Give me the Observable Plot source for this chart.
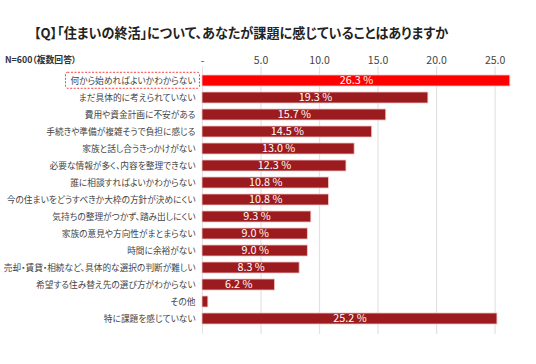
<!DOCTYPE html>
<html>
<head>
<meta charset="utf-8">
<script src="https://cdn.jsdelivr.net/npm/d3@7"></script>
<script src="https://cdn.jsdelivr.net/npm/@observablehq/plot@0.6"></script>
<style>
  body { margin: 0; background: #fff; font-family: "Noto Sans CJK JP", "Noto Sans", sans-serif; }
  #wrap { width: 536px; height: 364px; position: relative; }
  #title { position: absolute; left: 34px; top: 23px; font-size: 13.1px; font-weight: 700; color: #222; white-space: nowrap; font-feature-settings: "palt"; z-index: 2; }
  #note { position: absolute; left: 5px; top: 53px; font-size: 8.8px; font-weight: 700; color: #333; white-space: nowrap; font-feature-settings: "palt"; z-index: 2; }
  #chart { position: absolute; left: 0; top: 50px; z-index: 1; }
</style>
</head>
<body>
<div id="wrap">
  <div id="title">【Q】「住まいの終活」について、あなたが課題に感じていることはありますか</div>
  <div id="note">N=600（複数回答）</div>
  <div id="chart"></div>
</div>
<script>
const categories = [
  "何から始めればよいかわからない",
  "まだ具体的に考えられていない",
  "費用や資金計画に不安がある",
  "手続きや準備が複雑そうで負担に感じる",
  "家族と話し合うきっかけがない",
  "必要な情報が多く、内容を整理できない",
  "誰に相談すればよいかわからない",
  "今の住まいをどうすべきか大枠の方針が決めにくい",
  "気持ちの整理がつかず、踏み出しにくい",
  "家族の意見や方向性がまとまらない",
  "時間に余裕がない",
  "売却・賃貸・相続など、具体的な選択の判断が難しい",
  "希望する住み替え先の選び方がわからない",
  "その他",
  "特に課題を感じていない"
];
const values = [26.3, 19.3, 15.7, 14.5, 13.0, 12.3, 10.8, 10.8, 9.3, 9.0, 9.0, 8.3, 6.2, 0.5, 25.2];
const xTicks = [0, 5, 10, 15, 20, 25];

const data = categories.map((c, i) => ({cat: c, v: values[i], top: i === 0}));

const chart = Plot.plot({
  width: 536,
  height: 314,
  marginLeft: 202,
  marginRight: 18,
  marginTop: 16,
  marginBottom: 30,
  style: {fontFamily: '"Noto Sans CJK JP", "Noto Sans", sans-serif', background: "transparent"},
  x: {domain: [0, 27], axis: "top", ticks: xTicks, tickSize: 0, tickPadding: 3,
      tickFormat: d => d === 0 ? "-" : d.toFixed(1), label: null},
  y: {domain: categories, paddingInner: 0.34, paddingOuter: 0.34, tickSize: 0, tickPadding: 7, label: null},
  marks: [
    Plot.ruleX(xTicks.filter(d => d > 0), {stroke: "#e2e2e2", strokeWidth: 1.2}),
    Plot.ruleX([0], {stroke: "#e2e2e2", strokeWidth: 1}),
    Plot.barX(data, {y: "cat", x: "v", fill: d => d.top ? "#ff0000" : "#9c1b1f",
      stroke: "#f3c6c6", strokeWidth: 0.8}),
    Plot.text(data.filter(d => d.v > 1), {y: "cat", x: d => d.v / 2, text: d => d.v.toFixed(1) + " %",
      fill: "#fff", fontSize: 10.8, fontWeight: "normal"})
  ]
});

const xLab = chart.querySelector('[aria-label="x-axis tick label"]');
if (xLab) { xLab.setAttribute("font-size", "10.5"); xLab.setAttribute("fill", "#444"); }
const yLab = chart.querySelector('[aria-label="y-axis tick label"]');
if (yLab) { yLab.setAttribute("font-size", "8.7"); yLab.setAttribute("fill", "#444"); yLab.style.fontFeatureSettings = '"palt"'; }
const yTexts = chart.querySelectorAll('[aria-label="y-axis tick label"] text');

document.getElementById("chart").appendChild(chart);

// dashed highlight box around first category label
if (yTexts.length) {
  const t = yTexts[0];
  const bb = t.getBBox();
  const pt1 = chart.createSVGPoint(); pt1.x = bb.x; pt1.y = bb.y;
  const m = t.getScreenCTM(); const sm = chart.getScreenCTM().inverse();
  const p1 = pt1.matrixTransform(m).matrixTransform(sm);
  const g = document.createElementNS("http://www.w3.org/2000/svg", "rect");
  g.setAttribute("x", p1.x - 5);
  g.setAttribute("y", p1.y - 1.5);
  g.setAttribute("width", bb.width + 9);
  g.setAttribute("height", bb.height + 3);
  g.setAttribute("rx", 2);
  g.setAttribute("fill", "none");
  g.setAttribute("stroke", "#ff2a2a");
  g.setAttribute("stroke-width", 0.9);
  g.setAttribute("stroke-dasharray", "2,1.5");
  chart.appendChild(g);
}
</script>
</body>
</html>
